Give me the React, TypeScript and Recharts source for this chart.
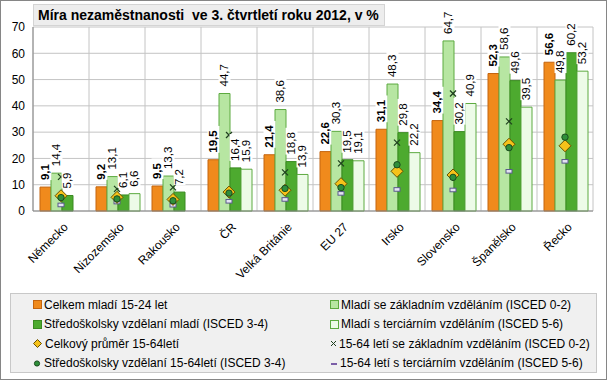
import React from "react";
import {
  ComposedChart,
  Bar,
  Line,
  XAxis,
  YAxis,
  CartesianGrid,
  LabelList,
} from "recharts";

const countries = [
  "Německo",
  "Nizozemsko",
  "Rakousko",
  "ČR",
  "Velká Británie",
  "EU 27",
  "Irsko",
  "Slovensko",
  "Španělsko",
  "Řecko",
];

// mladí 15-24
const youthTotal = [9.1, 9.2, 9.5, 19.5, 21.4, 22.6, 31.1, 34.4, 52.3, 56.6];
const youthBasic = [14.4, 13.1, 13.3, 44.7, 38.6, 30.3, 48.3, 64.7, 58.6, 49.8];
const youthSecondary = [5.9, 6.1, 7.2, 16.4, 18.8, 19.5, 29.8, 30.2, 49.6, 60.2];
const youthTertiary = [null, 6.6, null, 15.9, 13.9, 19.1, 22.2, 40.9, 39.5, 53.2];

// 15-64
const adultTotal = [5.8, 5.2, 4.4, 7.2, 7.9, 10.4, 15.1, 13.7, 25.4, 24.8];
const adultBasic = [13.0, 8.4, 9.0, 28.9, 14.7, 18.1, 26.0, 44.7, 34.1, null];
const adultSecondary = [5.1, 4.6, 3.9, 6.8, 8.6, 8.9, 17.6, 12.8, 24.1, 28.1];
const adultTertiary = [2.3, 3.4, 2.2, 3.7, 4.4, 6.7, 8.2, 8.0, 15.1, 18.9];

const yTicks = [0, 10, 20, 30, 40, 50, 60, 70];

const data = countries.map((name, i) => ({
  name,
  youthTotal: youthTotal[i],
  youthBasic: youthBasic[i],
  youthSecondary: youthSecondary[i],
  youthTertiary: youthTertiary[i],
  adultTotal: adultTotal[i],
  adultBasic: adultBasic[i],
  adultSecondary: adultSecondary[i],
  adultTertiary: adultTertiary[i],
}));

const FONT = "'Liberation Sans', Arial, sans-serif";

const C = {
  orange: "#F08A1C",
  orangeEdge: "#C4650F",
  light: "#B7E6A2",
  lightEdge: "#5DAA40",
  dark: "#4DAA2F",
  darkEdge: "#3B8A22",
  pale: "#EDFBE8",
  paleEdge: "#5DAA40",
};

const fmt = (v: number) => v.toFixed(1).replace(".", ",");

const makeLabel = (bold: boolean) => (props: any) => {
  const { x, y, width, value } = props;
  if (value == null) return <g />;
  const cx = x + width / 2;
  const ty = y - 7;
  const txt = fmt(value);
  const w = txt.length * 6.2 + 2;
  return (
    <g>
      <rect x={cx - 6} y={ty - w} width={12} height={w} fill="#fff" />
      <text
        x={cx}
        y={ty}
        transform={`rotate(-90 ${cx} ${ty})`}
        textAnchor="start"
        dominantBaseline="central"
        fontSize={11.5}
        fontFamily={FONT}
        fontWeight={bold ? 700 : 400}
        fill="#000"
      >
        {txt}
      </text>
    </g>
  );
};

const Diamond = ({ cx, cy }: any) => {
  if (cy == null || isNaN(cy)) return <g />;
  return (
    <path
      d={`M${cx},${cy - 6} L${cx + 6},${cy} L${cx},${cy + 6} L${cx - 6},${cy} Z`}
      fill="#F6C21A"
      stroke="#6B5200"
      strokeWidth={1}
    />
  );
};

const Cross = ({ cx, cy }: any) => {
  if (cy == null || isNaN(cy)) return <g />;
  return (
    <g stroke="#1E3F1E" strokeWidth={1.2}>
      <line x1={cx - 3} y1={cy - 3} x2={cx + 3} y2={cy + 3} />
      <line x1={cx - 3} y1={cy + 3} x2={cx + 3} y2={cy - 3} />
    </g>
  );
};

const Dot = ({ cx, cy }: any) => {
  if (cy == null || isNaN(cy)) return <g />;
  return <circle cx={cx} cy={cy} r={3.2} fill="#2F8F3A" stroke="#1B4D1F" strokeWidth={1} />;
};

const Dash = ({ cx, cy }: any) => {
  if (cy == null || isNaN(cy)) return <g />;
  return (
    <rect x={cx - 3} y={cy - 1.8} width={6} height={3.6} fill="#E4E4F2" stroke="#5A5A8C" strokeWidth={1} />
  );
};

const XTick = ({ x, y, payload }: any) => (
  <text
    x={x + 5}
    y={y + 6}
    transform={`rotate(-45 ${x + 5} ${y + 6})`}
    textAnchor="end"
    dominantBaseline="central"
    fontSize={12}
    fontFamily={FONT}
    fill="#000"
  >
    {payload.value}
  </text>
);

const legendItems = [
  { label: "Celkem mladí 15-24 let", kind: "sq", fill: C.orange, edge: C.orangeEdge },
  { label: "Mladí se základním vzděláním (ISCED 0-2)", kind: "sq", fill: C.light, edge: C.lightEdge },
  { label: "Středoškolsky vzdělaní mladí (ISCED 3-4)", kind: "sq", fill: C.dark, edge: C.darkEdge },
  { label: "Mladí s terciárním vzděláním (ISCED 5-6)", kind: "sq", fill: C.pale, edge: C.paleEdge },
  { label: "Celkový průměr 15-64letí", kind: "diamond" },
  { label: "15-64 letí se základním vzděláním (ISCED 0-2)", kind: "cross" },
  { label: "Středoškolsky vzdělaní 15-64letí (ISCED 3-4)", kind: "dot" },
  { label: "15-64 letí s terciárním vzděláním (ISCED 5-6)", kind: "dash" },
];

const LegendIcon = ({ item }: any) => {
  if (item.kind === "sq")
    return (
      <svg width={9} height={9} style={{ marginRight: 2 }}>
        <rect x={0.5} y={0.5} width={8} height={8} fill={item.fill} stroke={item.edge} />
      </svg>
    );
  if (item.kind === "diamond")
    return (
      <svg width={9} height={9} style={{ marginRight: 3 }}>
        <path d="M4.5,0.5 L8.5,4.5 L4.5,8.5 L0.5,4.5 Z" fill="#F6C21A" stroke="#6B5200" />
      </svg>
    );
  if (item.kind === "cross")
    return (
      <svg width={7} height={9} style={{ marginRight: 2 }}>
        <g stroke="#1E3F1E" strokeWidth={1}>
          <line x1={1} y1={2} x2={6} y2={7} />
          <line x1={1} y1={7} x2={6} y2={2} />
        </g>
      </svg>
    );
  if (item.kind === "dot")
    return (
      <svg width={8} height={9} style={{ marginRight: 3 }}>
        <circle cx={4} cy={4.5} r={2.6} fill="#2F8F3A" stroke="#1B4D1F" />
      </svg>
    );
  return (
    <svg width={8} height={9} style={{ marginRight: 2 }}>
      <rect x={1} y={4} width={6} height={2} fill="#7B5EA7" />
    </svg>
  );
};

export default function App() {
  return (
    <div
      style={{
        position: "absolute",
        left: 0,
        top: 0,
        width: 607,
        height: 380,
        background: "#fff",
        fontFamily: FONT,
      }}
    >
      <ComposedChart
        width={607}
        height={380}
        data={data}
        margin={{ top: 27, right: 14, left: 0, bottom: 89 }}
        barCategoryGap="12.5%"
        barGap={0}
      >
        <CartesianGrid
          stroke="#C4C4C4"
          verticalCoordinatesGenerator={({ offset }: any) =>
            countries.map((_, i) => offset.left + (i * offset.width) / countries.length).concat(offset.left + offset.width)
          }
        />
        <XAxis
          dataKey="name"
          interval={0}
          height={80}
          tick={<XTick />}
          tickLine={false}
          axisLine={{ stroke: "#868686" }}
        />
        <YAxis
          width={33}
          domain={[0, 70]}
          ticks={yTicks}
          interval={0}
          tickLine={false}
          axisLine={{ stroke: "#868686" }}
          tick={{ fontSize: 12, fill: "#000", fontFamily: FONT }}
        />
        <Bar dataKey="youthTotal" fill={C.orange} stroke={C.orangeEdge} isAnimationActive={false}>
          <LabelList dataKey="youthTotal" content={makeLabel(true)} />
        </Bar>
        <Bar dataKey="youthBasic" fill={C.light} stroke={C.lightEdge} isAnimationActive={false}>
          <LabelList dataKey="youthBasic" content={makeLabel(false)} />
        </Bar>
        <Bar dataKey="youthSecondary" fill={C.dark} stroke={C.darkEdge} isAnimationActive={false}>
          <LabelList dataKey="youthSecondary" content={makeLabel(false)} />
        </Bar>
        <Bar dataKey="youthTertiary" fill={C.pale} stroke={C.paleEdge} isAnimationActive={false}>
          <LabelList dataKey="youthTertiary" content={makeLabel(false)} />
        </Bar>
        <Line dataKey="adultBasic" stroke="none" dot={<Cross />} activeDot={false} isAnimationActive={false} />
        <Line dataKey="adultTertiary" stroke="none" dot={<Dash />} activeDot={false} isAnimationActive={false} />
        <Line dataKey="adultTotal" stroke="none" dot={<Diamond />} activeDot={false} isAnimationActive={false} />
        <Line dataKey="adultSecondary" stroke="none" dot={<Dot />} activeDot={false} isAnimationActive={false} />
      </ComposedChart>

      {/* titulek */}
      <div
        style={{
          position: "absolute",
          left: 33,
          top: 4,
          width: 352,
          height: 22,
          boxSizing: "border-box",
          background: "#EDEDED",
          border: "1px solid #D4D4D4",
          fontWeight: 700,
          fontSize: 14,
          lineHeight: "20px",
          paddingLeft: 4,
          whiteSpace: "pre",
          color: "#000",
        }}
      >
        {"Míra nezaměstnanosti  ve 3. čtvrtletí roku 2012, v %"}
      </div>

      {/* legenda */}
      <div
        style={{
          position: "absolute",
          left: 10,
          top: 293,
          width: 587,
          height: 80,
          boxSizing: "border-box",
          background: "#F0F0F0",
          border: "1px solid #C8C8C8",
          display: "grid",
          gridTemplateColumns: "297px 290px",
          gridAutoRows: "19.5px",
          paddingTop: 1,
          fontSize: 12,
          color: "#000",
        }}
      >
        {legendItems.map((it) => (
          <div
            key={it.label}
            style={{
              display: "flex",
              alignItems: "center",
              paddingLeft: 22,
              whiteSpace: "nowrap",
            }}
          >
            <LegendIcon item={it} />
            <span>{it.label}</span>
          </div>
        ))}
      </div>

      <div
        style={{
          position: "absolute",
          left: 0,
          top: 0,
          width: 607,
          height: 380,
          boxSizing: "border-box",
          border: "1px solid #868686",
          pointerEvents: "none",
        }}
      />
    </div>
  );
}
